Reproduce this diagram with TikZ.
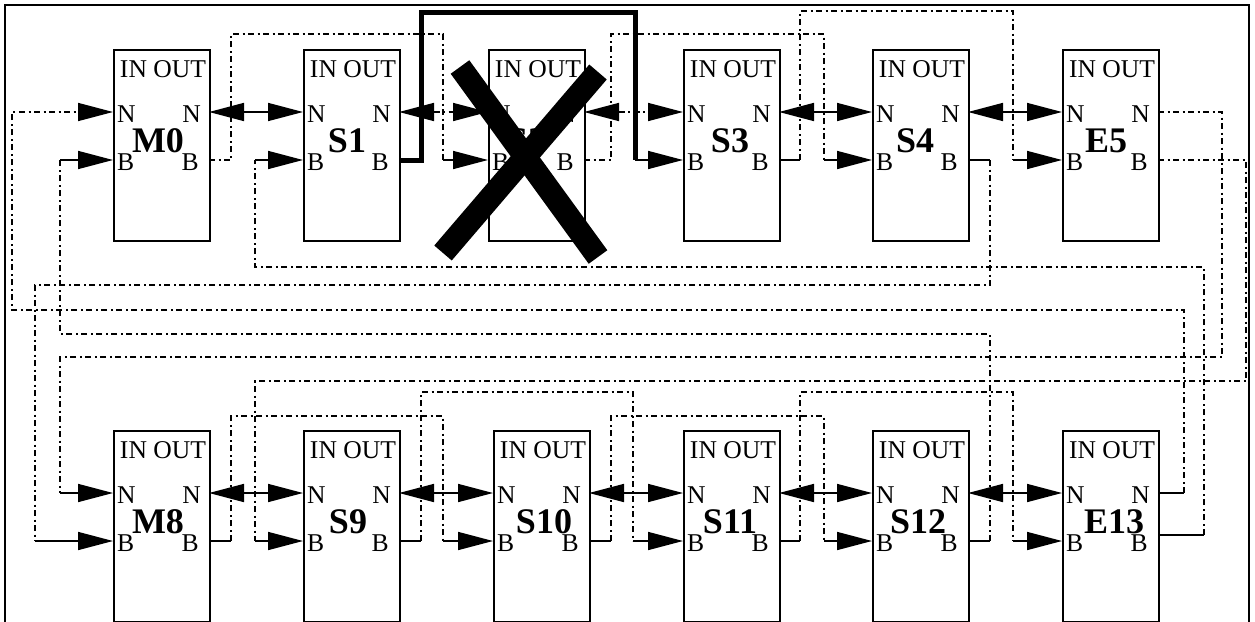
\documentclass[tikz,border=0pt]{standalone}
\usepackage{fontspec}
\setmainfont{Liberation Serif}
\usetikzlibrary{arrows.meta}
\newcommand\mkbox[5]{%
  \node[blk] (#1) at (#2,#3) {};
  \node[port, anchor=base] (#1io) at (#2+50,#3+28) {IN OUT};
  \node[port, anchor=base west] (#1nl) at (#2+4,#3+73) {N};
  \node[port, anchor=base east] (#1nr) at (#2+88,#3+73) {N};
  \node[port, anchor=base west] (#1bl) at (#2+4,#3+121) {B};
  \node[port, anchor=base east] (#1br) at (#2+86,#3+121) {B};
  \node[lbl] (#1lb) at (#5,#3+103) {#4};
  \coordinate (#1ni) at (#2,#3+63);
  \coordinate (#1bi) at (#2,#3+111);
  \coordinate (#1no) at (#2+96,#3+63);
  \coordinate (#1bo) at (#2+96,#3+111);
}
\begin{document}
\begin{tikzpicture}[x=1pt,y=-1pt,
  blk/.style={draw, line width=2pt, minimum width=96pt, minimum height=191pt, inner sep=0pt, anchor=north west},
  port/.style={font=\fontsize{25.6}{28}\selectfont, inner sep=0pt},
  lbl/.style={font=\fontsize{36}{38}\selectfont\bfseries, inner sep=0pt, anchor=base},
  dd/.style={line width=1.6pt, dash pattern=on 6pt off 3.5pt on 2pt off 3.5pt},
  stub/.style={line width=1.6pt},
  tipend/.style={-{Triangle[length=35pt,width=18pt]}},
  arr/.style={line width=1.6pt, tipend},
  darr/.style={line width=1.6pt, {Triangle[length=35pt,width=18pt]}-{Triangle[length=35pt,width=18pt]}},
  fatwire/.style={line width=5pt, line join=miter},
  crossst/.style={line width=23pt}
]
\useasboundingbox (0,0) rectangle (1255,621);
% frame
\draw[line width=2pt] (5,622) -- (5,5) -- (1249,5) -- (1249,622);

% boxes
\mkbox{m0}{113}{49}{M0}{158}
\mkbox{s1}{303}{49}{S1}{347}
\mkbox{s2}{488}{49}{S2}{527}
\mkbox{s3}{683}{49}{S3}{730}
\mkbox{s4}{872}{49}{S4}{915}
\mkbox{e5}{1062}{49}{E5}{1106}
\mkbox{m8}{113}{430}{M8}{158}
\mkbox{s9}{303}{430}{S9}{348}
\mkbox{s10}{493}{430}{S10}{544}
\mkbox{s11}{683}{430}{S11}{730}
\mkbox{s12}{872}{430}{S12}{918}
\mkbox{e13}{1062}{430}{E13}{1114}
\coordinate (e13bo) at (1158,535);

% N ring links
\draw[darr] (m0no) -- (s1ni);
\draw[darr, dd] (s1no) -- (s2ni);
\draw[darr, dd] (s2no) -- (s3ni);
\draw[darr] (s3no) -- (s4ni);
\draw[darr] (s4no) -- (e5ni);
\draw[darr] (m8no) -- (s9ni);
\draw[darr] (s9no) -- (s10ni);
\draw[darr] (s10no) -- (s11ni);
\draw[darr] (s11no) -- (s12ni);
\draw[darr] (s12no) -- (e13ni);

% M0 B out -> S2 B in
\draw[dd] (m0bo) -- (231,160) |- (443,34) -- (443,160) coordinate (j1);
\draw[arr] (j1) -- (s2bi);
% S1 B out -> S3 B in (bypass, thick)
\draw[fatwire] (s1bo) -- (421,160) |- (635,12) -- (635,160) coordinate (j2);
\draw[arr] (j2) -- (s3bi);
% S2 B out -> S4 B in
\draw[dd] (s2bo) -- (611,160) |- (824,34) -- (824,160) coordinate (j3);
\draw[arr] (j3) -- (s4bi);
% S3 B out -> E5 B in
\draw[stub] (s3bo) -- (800,160) coordinate (j4a);
\draw[dd] (j4a) |- (1013,11) -- (1013,160) coordinate (j4);
\draw[arr] (j4) -- (e5bi);
% S4 B out -> M8 B in
\draw[stub] (s4bo) -- (990,160) coordinate (j5a);
\draw[dd] (j5a) |- (35,285) -- (35,541) coordinate (j5);
\draw[arr] (j5) -- (m8bi);
% E5 B out -> S9 B in
\draw[dd] (e5bo) -| (1246,381) -| (255,541) coordinate (j6);
\draw[arr] (j6) -- (s9bi);
% E5 N out -> M8 N in
\draw[dd] (e5no) -| (1222,357) -| (60,493) coordinate (j7);
\draw[arr] (j7) -- (m8ni);
% E13 N out -> M0 N in
\draw[stub] (e13no) -- (1184,493) coordinate (j8a);
\draw[dd, tipend] (j8a) |- (12,310) |- (m0ni);
% E13 B out -> S1 B in
\draw[stub] (e13bo) -- (1204,535) coordinate (j9a);
\draw[dd] (j9a) |- (255,267) -- (255,160) coordinate (j9);
\draw[arr] (j9) -- (s1bi);
% S12 B out -> M0 B in
\draw[stub] (s12bo) -- (990,541) coordinate (j10a);
\draw[dd] (j10a) |- (60,334) -- (60,160) coordinate (j10);
\draw[arr] (j10) -- (m0bi);
% M8 B out -> S10 B in
\draw[stub] (m8bo) -- (231,541) coordinate (j11a);
\draw[dd] (j11a) |- (443,416) -- (443,541) coordinate (j11);
\draw[arr] (j11) -- (s10bi);
% S9 B out -> S11 B in
\draw[stub] (s9bo) -- (421,541) coordinate (j12a);
\draw[dd] (j12a) |- (633,392) -- (633,541) coordinate (j12);
\draw[arr] (j12) -- (s11bi);
% S10 B out -> S12 B in
\draw[stub] (s10bo) -- (611,541) coordinate (j13a);
\draw[dd] (j13a) |- (824,416) -- (824,541) coordinate (j13);
\draw[arr] (j13) -- (s12bi);
% S11 B out -> E13 B in
\draw[stub] (s11bo) -- (800,541) coordinate (j14a);
\draw[dd] (j14a) |- (1013,392) -- (1013,541) coordinate (j14);
\draw[arr] (j14) -- (e13bi);

% failed node cross
\draw[crossst] (460,67) -- (598,257);
\draw[crossst] (598,72) -- (443,253);
\end{tikzpicture}
\end{document}
